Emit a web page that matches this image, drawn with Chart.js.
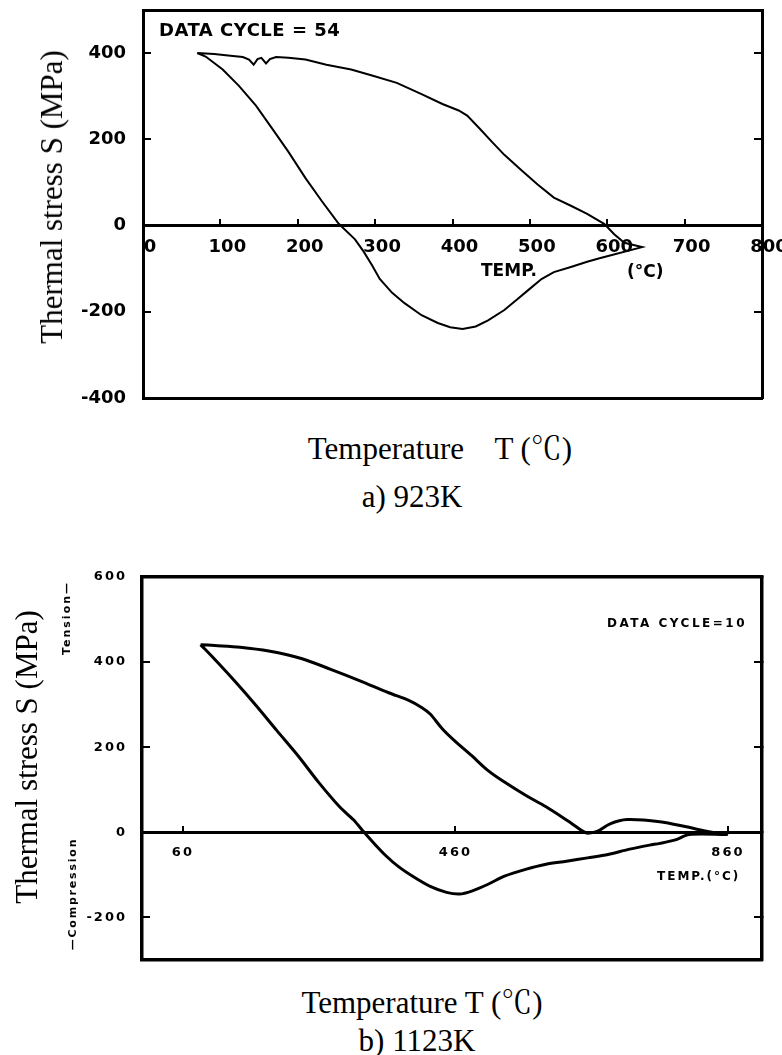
<!DOCTYPE html>
<html><head><meta charset="utf-8">
<script src="https://cdn.jsdelivr.net/npm/chart.js@4.4.1/dist/chart.umd.min.js"></script>
<style>
html,body{margin:0;padding:0;background:#fff;}
body{width:782px;height:1055px;position:relative;overflow:hidden;}
canvas{position:absolute;left:0;}
.t{position:absolute;white-space:pre;color:#000;}
.serif{font-family:"Liberation Serif","Noto Serif CJK SC","Noto Sans CJK SC",serif;font-size:31px;line-height:34px;}
.rot{transform:translate(-50%,-50%) rotate(-90deg);}
.ctr{transform:translate(-50%,-50%);}
.plot{font-family:"DejaVu Sans",sans-serif;font-weight:bold;}
</style></head><body>
<canvas id="c1" width="782" height="420" style="top:0px"></canvas>
<canvas id="c2" width="782" height="440" style="top:540px"></canvas>

<div class="t serif rot" style="left:52px;top:197px;">Thermal stress S (MPa)</div>
<div class="t serif ctr" style="left:440px;top:449px;">Temperature    T (℃)</div>
<div class="t serif ctr" style="left:412px;top:497px;">a) 923K</div>
<div class="t plot" style="left:159px;top:20px;font-size:18px;line-height:20px;letter-spacing:0.5px;">DATA CYCLE = 54</div>
<div class="t plot" style="left:481px;top:260px;font-size:17px;line-height:20px;">TEMP.</div>
<div class="t plot" style="left:627px;top:261px;font-size:17px;line-height:20px;">(°C)</div>

<div class="t serif rot" style="left:27px;top:757px;">Thermal stress S (MPa)</div>
<div class="t serif ctr" style="left:422px;top:1003px;">Temperature T (℃)</div>
<div class="t serif ctr" style="left:417px;top:1041px;">b) 1123K</div>
<div class="t plot" style="left:607px;top:615px;font-size:12px;line-height:16px;letter-spacing:2.5px;">DATA CYCLE=10</div>
<div class="t plot" style="left:657px;top:868px;font-size:12px;line-height:16px;letter-spacing:2px;">TEMP.(°C)</div>
<div class="t plot rot" style="left:66px;top:618px;font-size:11px;line-height:13px;letter-spacing:2px;">Tension—</div>
<div class="t plot rot" style="left:72px;top:894px;font-size:11px;line-height:13px;letter-spacing:1.8px;">—Compression</div>

<script>
// ---- a) 923K, DATA CYCLE = 54 ----
const topT = [70, 92, 113, 129, 137, 143, 148, 153, 159, 164, 172, 188, 210, 237, 269, 296, 328, 360, 387, 408, 419, 435, 451, 467, 488, 510, 531, 553, 574, 596, 609, 622, 645,
  590, 574, 553, 531, 515, 499, 483, 467, 446, 430, 413, 397, 381, 360, 338, 322, 306, 296, 285, 274, 253, 231, 210, 188, 167, 146, 124, 103, 81, 70];
const topS = [400, 398, 394, 391, 385, 373, 386, 389, 376, 386, 391, 389, 385, 373, 362, 348, 331, 305, 282, 267, 255, 225, 194, 164, 130, 95, 65, 46, 27, 4, -20, -40, -50,
  -76, -84, -96, -108, -124, -148, -172, -196, -220, -234, -240, -236, -226, -208, -180, -156, -124, -92, -60, -32, 4, 57, 110, 171, 225, 278, 324, 362, 392, 400];
const topTicksX = [0, 100, 200, 300, 400, 500, 600, 700, 800];
const topTicksY = [-400, -200, 0, 200, 400];

// ---- b) 1123K, DATA CYCLE = 10 ----
const botT = [86, 107, 144, 186, 235, 277, 320, 362, 393, 411, 423, 441, 459, 484, 508, 532, 563, 593, 623, 648, 654,
  668, 687, 712, 760, 799, 818, 847, 858,
  803, 784, 760, 745, 714, 684, 654, 623, 593, 563, 532, 508, 484, 466, 447, 423, 399, 376, 358, 340, 326, 310, 290, 259, 229, 198, 168, 138, 107, 86];
const botS = [441, 439, 435, 426, 408, 383, 356, 328, 309, 293, 278, 243, 215, 180, 145, 118, 87, 60, 29, 2, -2,
  2, 20, 30, 25, 13, 6, -3, -5,
  -5, -17, -26, -30, -40, -52, -60, -68, -75, -87, -103, -122, -138, -145, -141, -127, -105, -80, -55, -25, 0, 30, 60, 118, 180, 239, 297, 352, 406, 441];
const botTicksX = [60, 460, 860];
const botTicksY = [-200, 0, 200, 400, 600];

function setTicks(arr) { return s => { s.ticks = arr.map(v => ({ value: v })); }; }
function noPad(s) { s.paddingLeft = 0; s.paddingRight = 0; s.paddingTop = 0; s.paddingBottom = 0; }

function buildChart(id, p) {
  const pts = p.T.map((t, i) => ({ x: t, y: p.S[i] }));
  const font = { family: 'DejaVu Sans', weight: 'bold', size: p.fontSize };
  const spacingPlugin = {
    id: 'spacing',
    beforeDraw(c) { c.ctx.letterSpacing = p.letterSpacing; },
    afterDraw(c) { c.ctx.letterSpacing = '0px'; }
  };
  return new Chart(document.getElementById(id), {
    type: 'scatter',
    data: { datasets: [{ data: pts, showLine: true, borderColor: '#000', borderWidth: p.lineW,
      pointRadius: 0, pointHoverRadius: 0, tension: p.tension, fill: false }] },
    options: {
      responsive: false, animation: false, events: [],
      layout: { padding: p.padding },
      plugins: { legend: { display: false }, tooltip: { enabled: false }, title: { display: false } },
      scales: {
        x: {
          type: 'linear', position: { y: 0 }, min: p.xmin, max: p.xmax,
          afterBuildTicks: setTicks(p.xTicks),
          afterFit: noPad,
          ticks: { color: '#000', font, padding: p.xPad, autoSkip: false, maxRotation: 0, labelOffset: p.labelOffset },
          grid: { display: true, drawOnChartArea: false, drawTicks: true, tickLength: p.tickLen, color: '#000', lineWidth: 2 },
          border: { display: true, width: p.zeroW, color: '#000' }
        },
        xTop: {
          type: 'linear', position: 'top', min: p.xmin, max: p.xmax,
          ticks: { display: false }, grid: { display: false },
          border: { display: true, width: p.frameW, color: '#000' },
          afterFit(s) { s.height = 0; noPad(s); }
        },
        xBot: {
          type: 'linear', position: 'bottom', min: p.xmin, max: p.xmax,
          ticks: { display: false }, grid: { display: false },
          border: { display: true, width: p.frameW, color: '#000' },
          afterFit(s) { s.height = 0; noPad(s); }
        },
        y: {
          type: 'linear', position: 'left', min: p.ymin, max: p.ymax,
          afterBuildTicks: setTicks(p.yTicks),
          afterFit(s) { s.width = p.yWidth; noPad(s); },
          ticks: { color: '#000', font, padding: p.yPad },
          grid: { display: true, drawOnChartArea: false, drawTicks: true, tickLength: p.tickLen, color: '#000', lineWidth: 2 },
          border: { display: true, width: p.frameW, color: '#000' }
        },
        yR: {
          type: 'linear', position: 'right', min: p.ymin, max: p.ymax,
          afterBuildTicks: setTicks(p.yTicks),
          afterFit(s) { s.width = 0; noPad(s); },
          ticks: { display: false },
          grid: { display: true, drawOnChartArea: false, drawTicks: true, tickLength: p.tickLen, color: '#000', lineWidth: 2 },
          border: { display: true, width: p.frameW, color: '#000' }
        }
      }
    },
    plugins: [spacingPlugin]
  });
}

buildChart('c1', {
  T: topT, S: topS, xmin: 0, xmax: 800, ymin: -400, ymax: 500,
  xTicks: topTicksX, yTicks: topTicksY,
  padding: { left: 0, right: 20, top: 10, bottom: 22 }, yWidth: 143,
  fontSize: 18, xPad: 19, yPad: 25, tickLen: -8, labelOffset: 7,
  frameW: 3, zeroW: 3, lineW: 2, tension: 0, letterSpacing: '0px'
});

buildChart('c2', {
  T: botT, S: botS, xmin: 0, xmax: 910, ymin: -300, ymax: 600,
  xTicks: botTicksX, yTicks: botTicksY,
  padding: { left: 0, right: 20, top: 37, bottom: 20 }, yWidth: 142,
  fontSize: 13, xPad: 20, yPad: 23, tickLen: -8, labelOffset: 0,
  frameW: 3.5, zeroW: 3, lineW: 3, tension: 0.3, letterSpacing: '2px'
});
</script>
</body></html>
